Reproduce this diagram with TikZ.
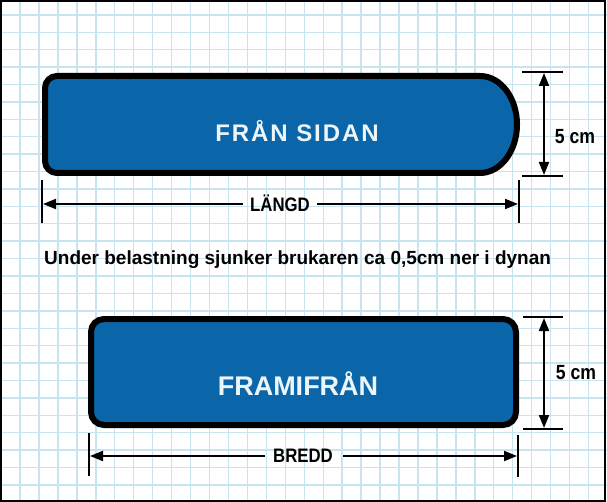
\documentclass[tikz,border=0pt]{standalone}
\usepackage{fontspec}
\setmainfont{Liberation Sans}
\newfontfamily\condfont[FakeStretch=0.86]{Liberation Sans}
\usetikzlibrary{arrows.meta}
\definecolor{gridblue}{RGB}{200,228,238}
\definecolor{padblue}{RGB}{10,102,168}
\definecolor{labelwhite}{RGB}{236,246,250}
\tikzset{
  pad/.style={draw=black,line width=6pt,fill=padblue},
  dimline/.style={draw=black,line width=2pt},
  dimarrow/.style={draw=black,line width=2pt,-{Triangle[length=13pt,width=10pt]}},
  dimboth/.style={draw=black,line width=2pt,{Triangle[length=13pt,width=10pt]}-{Triangle[length=13pt,width=10pt]}},
  dimlabel/.style={font=\condfont\bfseries\fontsize{19.5}{19.5}\selectfont,inner sep=0pt,anchor=base},
  cmlabel/.style={font=\condfont\bfseries\fontsize{20.5}{20.5}\selectfont,inner sep=0pt,anchor=base},
  padlabel/.style={text=labelwhite,inner sep=0pt,anchor=base}
}
\begin{document}
\begin{tikzpicture}[x=1pt,y=-1pt]
\useasboundingbox (0,0) rectangle (607,502);
\fill[white] (0,0) rectangle (607,502);
% grid
\foreach \k in {0,...,30} {\draw[gridblue,line width=1.4pt] ({20+18.95*\k},0) -- ({20+18.95*\k},502);}
\foreach \k in {0,...,27} {\draw[gridblue,line width=1.4pt] (0,{15+17.4*\k}) -- (607,{15+17.4*\k});}
\draw[black,line width=2pt] (1,1) rectangle (605,500.5);

% top pad (side view)
\draw[pad] (57,76) -- (480,76) arc[start angle=-90,end angle=90,x radius=37,y radius=48.5]
  -- (57,173) arc[start angle=90,end angle=180,radius=12] -- (45,88)
  arc[start angle=180,end angle=270,radius=12] -- cycle;
\node[padlabel,font=\bfseries\fontsize{24}{24}\selectfont\addfontfeatures{LetterSpace=8}] (side) at (297,142) {FRÅN SIDAN};

% top vertical dimension
\coordinate (tv1a) at (522,72); \coordinate (tv1b) at (563,72);
\coordinate (tv2a) at (522,176); \coordinate (tv2b) at (563,176);
\draw[dimline] (tv1a) -- (tv1b);
\draw[dimline] (tv2a) -- (tv2b);
\coordinate (tva) at (544,73); \coordinate (tvb) at (544,175);
\draw[dimboth] (tva) -- (tvb);
\node[cmlabel] (h1) at (575,144) {5 cm};

% top horizontal dimension
\coordinate (tl1) at (42,180); \coordinate (tl2) at (42,223);
\coordinate (tr1) at (519,180); \coordinate (tr2) at (519,223);
\draw[dimline] (tl1) -- (tl2);
\draw[dimline] (tr1) -- (tr2);
\node[dimlabel] (len) at (280,211.5) {LÄNGD};
\coordinate (tla) at (243,204); \coordinate (tlb) at (43,204);
\coordinate (tra) at (317,204); \coordinate (trb) at (518,204);
\draw[dimarrow] (tla) -- (tlb);
\draw[dimarrow] (tra) -- (trb);

% middle sentence
\node[inner sep=0pt,anchor=base west,font=\bfseries\fontsize{19}{19}\selectfont] (note) at (44,264.3) {Under belastning sjunker brukaren ca 0,5cm ner i dynan};

% bottom pad (front view)
\draw[pad,rounded corners=13pt] (91,319) rectangle (516,425);
\node[padlabel,font=\bfseries\fontsize{27}{27}\selectfont] (front) at (298,395.7) {FRAMIFRÅN};

% bottom vertical dimension
\coordinate (bv1a) at (523,317); \coordinate (bv1b) at (563,317);
\coordinate (bv2a) at (523,429); \coordinate (bv2b) at (563,429);
\draw[dimline] (bv1a) -- (bv1b);
\draw[dimline] (bv2a) -- (bv2b);
\coordinate (bva) at (544,318); \coordinate (bvb) at (544,428);
\draw[dimboth] (bva) -- (bvb);
\node[cmlabel] (h2) at (576,379) {5 cm};

% bottom horizontal dimension
\coordinate (bl1) at (89,433); \coordinate (bl2) at (89,476);
\coordinate (br1) at (518,435); \coordinate (br2) at (518,477);
\draw[dimline] (bl1) -- (bl2);
\draw[dimline] (br1) -- (br2);
\node[dimlabel] (wid) at (303,462.3) {BREDD};
\coordinate (bla) at (265,456); \coordinate (blb) at (90,456);
\coordinate (bra) at (343,456); \coordinate (brb) at (517,456);
\draw[dimarrow] (bla) -- (blb);
\draw[dimarrow] (bra) -- (brb);
\end{tikzpicture}
\end{document}
